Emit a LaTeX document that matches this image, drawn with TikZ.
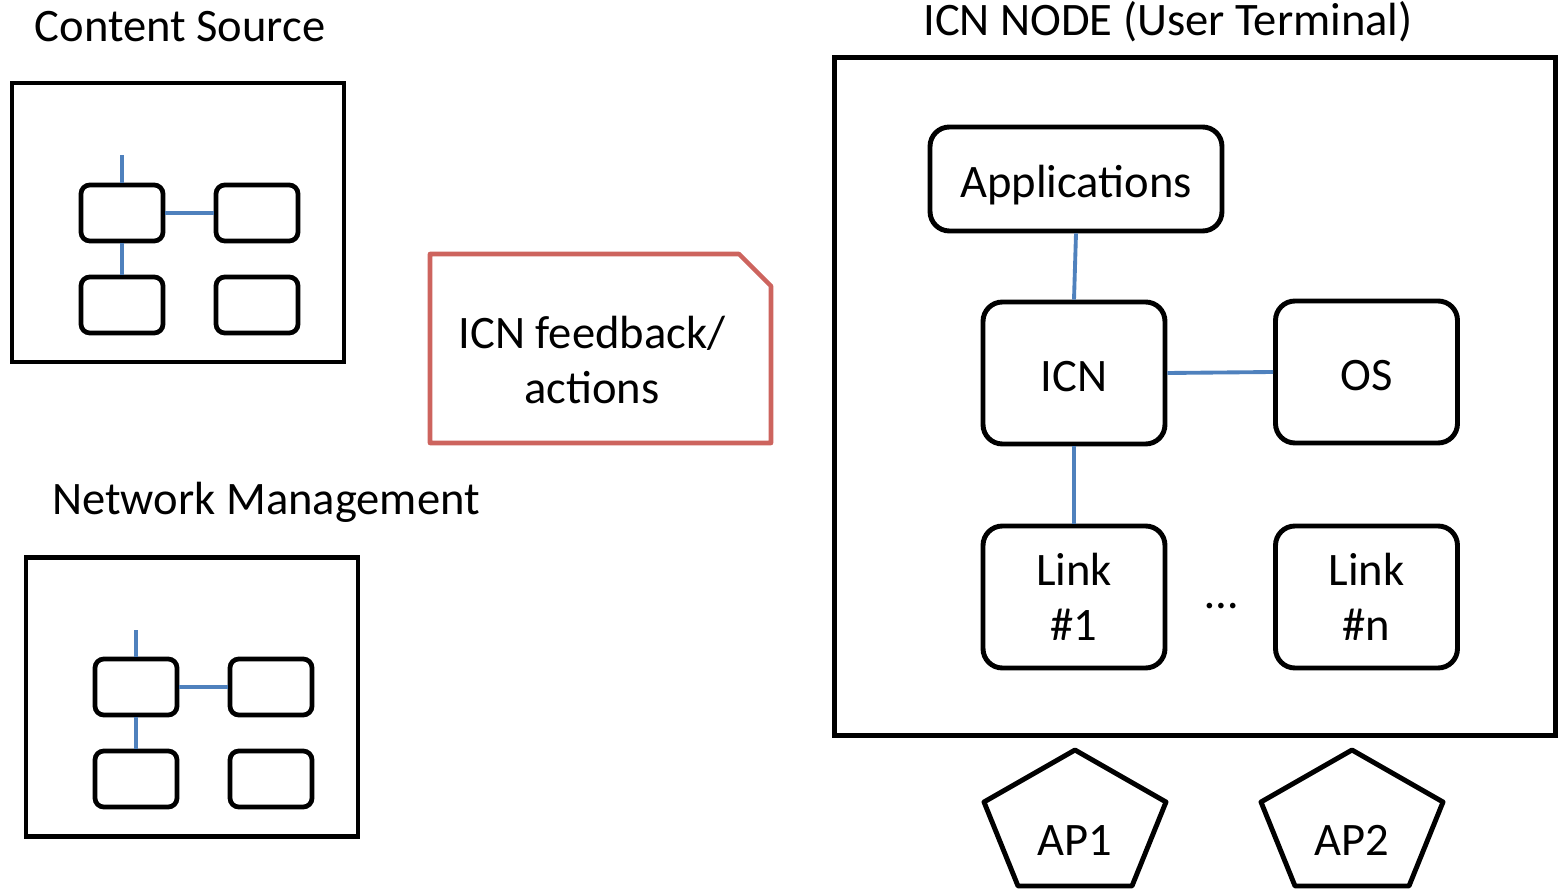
\documentclass[tikz,border=0pt]{standalone}
\usepackage{fontspec}
\setmainfont{Carlito}
\usepackage{tikz}
\usetikzlibrary{positioning}
\definecolor{wireblue}{RGB}{79,129,189}
\definecolor{notered}{RGB}{205,100,94}

\begin{document}
\begin{tikzpicture}
		[x=0.02cm, y=-0.02cm,
		 every node/.style={font=\fontsize{26.5pt}{31.5pt}\selectfont},
		 frame/.style={draw, line width=2.8pt, minimum width=6.64cm, minimum height=5.58cm},
		 minibox/.style={draw, line width=2.7pt, rounded corners=5pt, minimum width=1.64cm, minimum height=1.12cm},
		 block/.style={draw, line width=2.8pt, rounded corners=11pt, minimum width=3.64cm, minimum height=2.84cm, align=center},
		 oneline/.style={text height=21.5pt, text depth=0pt},
		 wire/.style={wireblue, line width=2.7pt},
		 thinwire/.style={wireblue, line width=2.2pt}]
			\useasboundingbox (0,0) rectangle (1562,891);
			% content source
			\node [anchor=base] (cslabel) at (180,42) {Content Source};
			\node [frame] (cs) at (178,222.5) {};
			\node [minibox] (cs1) at (122,213) {};
			\node [minibox] (cs2) at (257,213) {};
			\node [minibox] (cs3) at (122,305) {};
			\node [minibox] (cs4) at (257,305) {};
			\coordinate (cstop) at (122,155);
			\draw [wire] (cs1.north) -- (cstop);
			\draw [wire] (cs1.east) -- (cs2.west);
			\draw [wire] (cs1.south) -- (cs3.north);
			% network management
			\node [anchor=base] (nmlabel) at (266,515) {Network Management};
			\node [frame] (nm) at (192,697) {};
			\node [minibox] (nm1) at (136,687) {};
			\node [minibox] (nm2) at (271,687) {};
			\node [minibox] (nm3) at (136,779) {};
			\node [minibox] (nm4) at (271,779) {};
			\coordinate (nmtop) at (136,630);
			\draw [wire] (nm1.north) -- (nmtop);
			\draw [wire] (nm1.east) -- (nm2.west);
			\draw [wire] (nm1.south) -- (nm3.north);
			% feedback note
			\draw [notered, line width=2.6pt, line join=round]
				(430,254) -- (739,254) -- (771,286) -- (771,443) -- (430,443) -- cycle;
			\node [align=center] (fb) at (592,360) {ICN feedback/\\actions};
			% icn node
			\node [anchor=base] (icnlabel) at (1168,36) {ICN NODE (User Terminal)};
			\node [frame, minimum width=14.44cm, minimum height=13.58cm] (term) at (1195,396.5) {};
			\node [block, oneline, minimum width=5.84cm, minimum height=2.08cm] (apps) at (1076,179) {Applications};
			\node [block, oneline] (icn) at (1074,373) {ICN};
			\node [block, oneline] (os) at (1366.5,372) {OS};
			\node [block] (link1) at (1074,597) {Link\\\#1};
			\node [block] (linkn) at (1366.5,597) {Link\\\#n};
			\node [anchor=base] (dots) at (1222,608) {…};
			\draw [thinwire] (apps.south) -- (icn.north);
			\draw [thinwire] (icn.east) -- (os.west);
			\draw [thinwire] (icn.south) -- (link1.north);
			% access points
			\node [anchor=base] (ap1) at (1075,855) {AP1};
			\node [anchor=base] (ap2) at (1352,855) {AP2};
			\draw [line width=2.8pt, line join=round, shift={(ap1.base)}]
				(0,-105) -- (91,-53) -- (57,31) -- (-57,31) -- (-91,-53) -- cycle;
			\draw [line width=2.8pt, line join=round, shift={(ap2.base)}]
				(0,-105) -- (91,-53) -- (57,31) -- (-57,31) -- (-91,-53) -- cycle;
	\end{tikzpicture}
\end{document}
